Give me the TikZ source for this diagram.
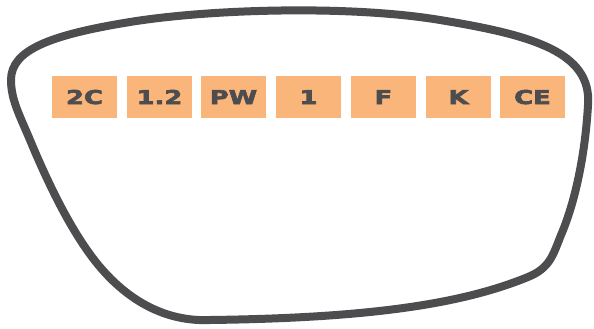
\documentclass[tikz,border=0pt]{standalone}
\usepackage{fontspec}
\newfontfamily\tagfont[FakeStretch=1.36,FakeBold=3.5]{DejaVu Sans Bold}
\definecolor{ink}{HTML}{4D4D4F}
\definecolor{tagfill}{HTML}{FAB57B}
\begin{document}
\begin{tikzpicture}[x=1pt,y=-1pt,
  tag/.style={fill=tagfill,draw=none,minimum width=65pt,minimum height=42pt,inner sep=0pt,
    text height=14pt,text depth=0pt,text=ink,font=\tagfont\fontsize{19pt}{19pt}\selectfont},
  outline/.style={draw=ink,line width=8pt,line join=round}]
\useasboundingbox (0,0) rectangle (594,329);
\draw[outline] (11,80) .. controls (11,50) and (50,35) .. (130,22)
  .. controls (210,9) and (350,5) .. (440,20)
  .. controls (532,35) and (592,52) .. (588,105)
  .. controls (585,158) and (574,205) .. (561,235)
  .. controls (553,255) and (550,268) .. (528,277)
  .. controls (462,304) and (370,318) .. (210,320)
  .. controls (165,322) and (128,300) .. (100,267)
  .. controls (78,241) and (55,200) .. (30,140)
  .. controls (20,116) and (11,100) .. (11,80) -- cycle;
\node[tag] (t1) at (84.5,97) {2C};
\node[tag] (t2) at (159.5,97) {1.2};
\node[tag] (t3) at (233.5,97) {PW};
\node[tag] (t4) at (308.5,97) {1};
\node[tag] (t5) at (383.5,97) {F};
\node[tag] (t6) at (458.5,97) {K};
\node[tag] (t7) at (532.5,97) {CE};
\end{tikzpicture}
\end{document}
